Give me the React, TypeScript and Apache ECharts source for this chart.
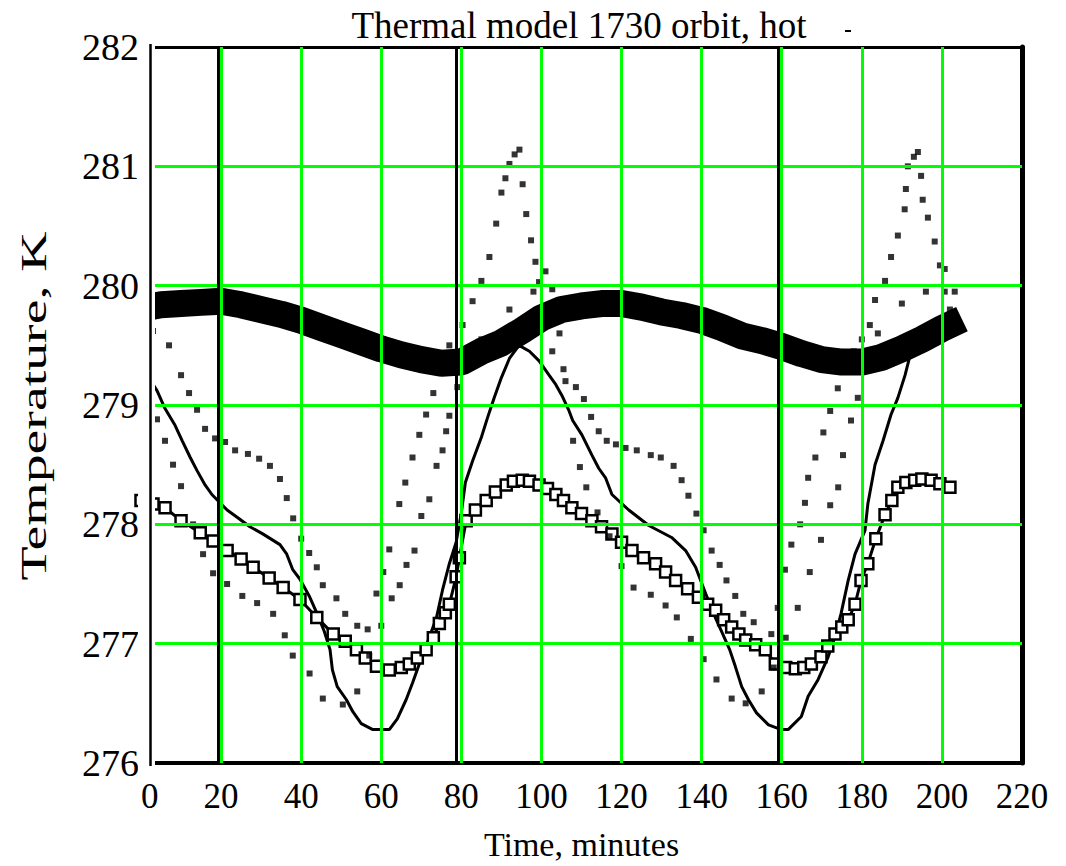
import React, { useEffect, useRef } from 'react';
import * as echarts from 'echarts';

// Axis ticks
const xTicks = [0, 20, 40, 60, 80, 100, 120, 140, 160, 180, 200, 220];
const yTicks = [276, 277, 278, 279, 280, 281, 282];
// Black vertical marker lines (minutes)
const eclipseLines = [19.3, 78.8, 159.1];

// Thick noisy band near 279.6 K
const bandCurve = [
  [0, 279.81], [5, 279.84], [10, 279.85], [15, 279.86], [20, 279.87], [25, 279.84], [30, 279.8],
  [35, 279.76], [40, 279.71], [45, 279.65], [50, 279.59], [55, 279.53], [60, 279.47], [65, 279.42],
  [70, 279.38], [75, 279.35], [80, 279.36], [85, 279.45], [90, 279.52], [95, 279.62], [100, 279.73],
  [105, 279.8], [110, 279.83], [115, 279.85], [120, 279.85], [125, 279.82], [130, 279.78], [135, 279.75],
  [140, 279.71], [145, 279.65], [150, 279.58], [155, 279.54], [160, 279.49], [165, 279.43], [170, 279.38],
  [175, 279.36], [180, 279.36], [185, 279.4], [190, 279.47], [195, 279.55], [200, 279.64], [205, 279.72],
];

// Hollow-square curve
const boxCurve = [
  [0, 278.2], [3, 278.17], [6, 278.14], [10, 278.03], [14.8, 277.93], [18, 277.86], [21.5, 277.78],
  [25, 277.71], [28, 277.64], [32, 277.55], [35.5, 277.47], [39.7, 277.37], [43.9, 277.22], [48, 277.08],
  [51, 277.02], [53.8, 276.95], [56, 276.88], [58.8, 276.81], [62, 276.78], [65, 276.8], [67, 276.83],
  [69, 276.88], [71.2, 276.95], [73, 277.05], [74.5, 277.17], [76, 277.26], [77, 277.33], [78.7, 277.56],
  [79.5, 277.72], [81.2, 278.03], [83.5, 278.12], [86.2, 278.2], [88.5, 278.27], [91.2, 278.33],
  [93, 278.36], [95.2, 278.37], [97, 278.36], [99.4, 278.33], [101.5, 278.3], [103.6, 278.25],
  [105.5, 278.2], [107.6, 278.14], [110, 278.09], [112.6, 278.03], [115, 277.98], [117.6, 277.92],
  [120, 277.85], [122.6, 277.78], [125.5, 277.72], [128.5, 277.67], [131, 277.6], [133.5, 277.53],
  [136.5, 277.46], [139.2, 277.39], [141.5, 277.33], [143.5, 277.28], [145.5, 277.2], [147.5, 277.14],
  [149.3, 277.08], [151, 277.03], [153.5, 276.99], [155.9, 276.95], [158.4, 276.83], [161, 276.8],
  [163.4, 276.79], [165.5, 276.8], [167.4, 276.83], [169.8, 276.89], [171.5, 276.98], [173.3, 277.08],
  [175, 277.14], [176.6, 277.2], [178.3, 277.33], [179.8, 277.53], [181.5, 277.67], [183.5, 277.88],
  [185.8, 278.08], [187.5, 278.2], [189, 278.31], [191, 278.35], [193.2, 278.37], [195, 278.38],
  [197.3, 278.37], [199.5, 278.34], [202, 278.31],
];

// Thin solid curve with the deep minima
const minCurve = [
  [1.5, 279.25], [4, 279.12], [6, 278.97], [8.5, 278.83], [10.3, 278.7], [12.3, 278.56], [14, 278.45],
  [16, 278.33], [17.7, 278.25], [21.5, 278.12], [24, 278.06], [27.2, 277.98], [30.4, 277.92],
  [34.7, 277.83], [36.4, 277.75], [37.9, 277.62], [39.7, 277.54], [42, 277.4], [44, 277.25],
  [45.8, 277.1], [47.2, 276.95], [47.8, 276.78], [49, 276.64], [51.3, 276.53], [52.9, 276.43],
  [55, 276.33], [57.9, 276.28], [62, 276.28], [64, 276.37], [66.2, 276.53], [67.8, 276.67],
  [69.5, 276.83], [71.2, 276.98], [73.8, 277.22], [75.3, 277.45], [77, 277.67], [78.7, 277.85],
  [80, 278.1], [81, 278.35], [82.8, 278.53], [85, 278.73], [86.5, 278.89], [88.2, 279.06], [90, 279.23],
  [92, 279.39], [94.4, 279.5], [97, 279.45], [99.4, 279.37], [101.9, 279.25], [103.6, 279.17],
  [105.1, 279.08], [106.9, 278.95], [107.8, 278.87], [110.1, 278.75], [112.6, 278.58], [114.3, 278.47],
  [116, 278.39], [117.6, 278.25], [121.8, 278.12], [126.8, 277.99], [132.5, 277.89], [136, 277.78],
  [138.5, 277.64], [141, 277.42], [143, 277.25], [145, 277.1], [147, 276.95], [148.4, 276.81],
  [150, 276.64], [151.7, 276.53], [153.7, 276.42], [156.7, 276.32], [159.9, 276.28], [161.6, 276.28],
  [164.9, 276.39], [166.6, 276.56], [169.1, 276.7], [171.6, 276.89], [173.3, 277.06], [174.8, 277.25],
  [176.6, 277.53], [178.3, 277.75], [180.8, 277.95], [181.5, 278.17], [183.3, 278.5], [185.3, 278.7],
  [187.3, 278.92], [189, 279.06], [190.8, 279.25], [192.3, 279.45], [194.7, 279.56], [197.2, 279.64],
  [199.7, 279.72],
];

// Sparse dotted curve with the 281 K peaks
const maxCurve = [
  [0, 279.75], [3, 279.62], [7, 279.5], [10, 279.25], [12, 279.1], [14, 278.96], [16, 278.8],
  [18.5, 278.72], [21, 278.69], [23.5, 278.62], [26.7, 278.59], [29.5, 278.55], [32.2, 278.49],
  [34.7, 278.38], [36.4, 278.22], [38, 278.05], [40, 277.88], [42, 277.76], [43.9, 277.64],
  [45.4, 277.49], [48.8, 277.38], [51, 277.25], [54, 277.15], [56.6, 277.12], [58.8, 277.42],
  [60.5, 277.6], [62, 277.79], [64.5, 278.17], [66, 278.35], [67.8, 278.56], [69.5, 278.75],
  [71.2, 278.92], [73, 279.1], [74.5, 279.3], [77, 279.5], [80.3, 279.67], [82.8, 279.87], [85, 280.04],
  [87, 280.24], [88.7, 280.52], [90, 280.78], [91, 280.9], [92, 281.02], [93.3, 281.1], [94.5, 281.14],
  [95.3, 280.85], [96.2, 280.6], [97.4, 280.38], [98.5, 280.2], [99.4, 280.03], [101, 279.75],
  [102.7, 279.45], [105.5, 279.3], [108.6, 279.15], [110.6, 279.05], [112.4, 278.9], [114.3, 278.78],
  [116.3, 278.7], [118.6, 278.67], [121, 278.64], [123.8, 278.62], [127.3, 278.58], [129.8, 278.56],
  [133, 278.49], [135, 278.37], [136.7, 278.24], [138.7, 278.09], [140.5, 277.95], [142.5, 277.78],
  [144.5, 277.66], [146.2, 277.53], [148.4, 277.4], [150.4, 277.25], [153, 277.18], [157.4, 277.08],
  [159, 277.3], [160.8, 277.62], [162.4, 277.83], [164.6, 278.0], [165.8, 278.18], [166.6, 278.39],
  [168.4, 278.56], [170.4, 278.77], [172.1, 278.95], [174, 279.14], [176, 279.3], [178, 279.45],
  [180, 279.55], [182, 279.67], [183.3, 279.88], [185.8, 280.04], [187.3, 280.24], [189, 280.42],
  [190.7, 280.64], [191, 280.81], [191.5, 281.0], [193, 281.08], [194, 281.12], [194.8, 280.92],
  [195.2, 280.72], [196.5, 280.57], [198.2, 280.37], [199.5, 280.17], [200.7, 279.95], [202, 279.8],
  [203.2, 279.62],
];

// Second sparse dotted curve
const midCurve = [
  [2, 279.05], [4, 278.88], [6, 278.7], [8, 278.5], [10, 278.32], [13, 278.0], [15.5, 277.75],
  [18, 277.59], [21.5, 277.5], [25.3, 277.4], [29, 277.34], [33, 277.25], [35.9, 277.07], [37.9, 276.9],
  [42.1, 276.75], [45.4, 276.54], [50.4, 276.49], [54, 276.6], [57, 276.9], [60, 277.15], [62.6, 277.38],
  [64.6, 277.49], [66.3, 277.66], [68.3, 277.78], [70, 278.07], [72, 278.21], [73.8, 278.49],
  [75.3, 278.62], [76.2, 278.78], [77, 278.91], [79, 279.15], [85, 279.55], [92, 279.8], [98, 279.95],
  [101, 280.12], [102.7, 279.97], [104.5, 279.6], [106, 279.2], [107.9, 278.7], [109.6, 278.48],
  [111.2, 278.31], [114, 278.1], [117, 277.9], [120, 277.65], [123, 277.47], [127.3, 277.41],
  [131, 277.32], [133.8, 277.22], [137.3, 277.04], [140.5, 276.87], [143.7, 276.7], [147.5, 276.54],
  [151, 276.5], [155, 276.6], [158, 276.8], [161, 277.05], [164, 277.3], [167, 277.6], [169.8, 277.87],
  [172.1, 278.16], [174.1, 278.31], [175.3, 278.58], [177.3, 278.87], [179, 279.06], [181, 279.3],
  [184, 279.6], [190, 279.85], [196, 279.95], [200.7, 280.14], [203.2, 279.95],
];

export default function App() {
  const ref = useRef<HTMLDivElement>(null);

  useEffect(() => {
    document.body.style.margin = '0';
    const chart = echarts.init(ref.current as HTMLDivElement, null, { renderer: 'svg' });
    const serif = "'Liberation Serif', 'Times New Roman', serif";
    const black = '#000000';
    const green = '#00ff00';
    const innerX = xTicks.slice(1, -1);
    const innerY = yTicks.slice(1, -1);
    const xMin = xTicks[0];
    const xMax = xTicks[xTicks.length - 1];
    const yMin = yTicks[0];
    const yMax = yTicks[yTicks.length - 1];

    chart.setOption({
      animation: false,
      backgroundColor: '#ffffff',
      title: {
        text: 'Thermal model 1730 orbit, hot',
        left: 574,
        top: 2,
        textAlign: 'center',
        textStyle: { fontFamily: serif, fontSize: 37, fontWeight: 'normal', color: black },
      },
      grid: { left: 141, right: 44, top: 47, bottom: 99 },
      xAxis: [
        {
          type: 'value', min: xMin, max: xMax, interval: 20, position: 'bottom',
          axisLine: { show: true, onZero: false, lineStyle: { color: black, width: 4 } },
          axisTick: { show: false }, splitLine: { show: false },
          axisLabel: { fontFamily: serif, fontSize: 35, color: black, margin: 16, alignMinLabel: 'left' },
          name: 'Time, minutes', nameLocation: 'middle', nameGap: 64,
          nameTextStyle: { fontFamily: serif, fontSize: 34, color: black },
        },
        {
          type: 'value', min: xMin, max: xMax, interval: 20, position: 'top',
          axisLine: { show: true, onZero: false, lineStyle: { color: black, width: 3 } },
          axisTick: { show: false }, axisLabel: { show: false }, splitLine: { show: false },
        },
      ],
      yAxis: [
        {
          type: 'value', min: yMin, max: yMax, interval: 1, position: 'left',
          axisLine: { show: false }, axisTick: { show: false }, splitLine: { show: false },
          axisLabel: { fontFamily: serif, fontSize: 38, color: black, margin: 2 },
        },
        {
          type: 'value', min: yMin, max: yMax, interval: 1, position: 'right',
          axisLine: { show: true, onZero: false, lineStyle: { color: black, width: 5 } },
          axisTick: { show: false }, axisLabel: { show: false }, splitLine: { show: false },
        },
      ],
      series: [
        {
          type: 'line', data: bandCurve, showSymbol: false, z: 2, silent: true,
          lineStyle: { color: black, width: 27 },
        },
        {
          type: 'line', data: minCurve, showSymbol: false, z: 3, silent: true,
          lineStyle: { color: black, width: 3 },
        },
        {
          type: 'line', data: boxCurve, symbol: 'rect', symbolSize: 11, showAllSymbol: true, z: 3, silent: true,
          lineStyle: { color: black, width: 3 },
          itemStyle: { color: '#ffffff', borderColor: black, borderWidth: 2.5 },
        },
        {
          type: 'scatter', data: maxCurve, symbol: 'rect', symbolSize: 6, z: 3, silent: true,
          itemStyle: { color: black },
        },
        {
          type: 'scatter', data: midCurve, symbol: 'rect', symbolSize: 6, z: 3, silent: true,
          itemStyle: { color: black },
        },
        {
          type: 'line', data: [[xMin, yMin]], symbol: 'none', z: 5, silent: true,
          lineStyle: { width: 0 },
          markLine: {
            silent: true, symbol: ['none', 'none'], label: { show: false },
            lineStyle: { color: green, width: 3, type: 'solid' },
            emphasis: { disabled: true },
            data: [
              ...innerX.map((v) => ({ xAxis: v })),
              ...innerY.map((v) => ({ yAxis: v })),
            ],
          },
        },
        {
          type: 'line', data: [[xMin, yMin]], symbol: 'none', z: 6, silent: true,
          lineStyle: { width: 0 },
          markLine: {
            silent: true, symbol: ['none', 'none'], label: { show: false },
            lineStyle: { color: black, width: 3, type: 'solid' },
            emphasis: { disabled: true },
            data: eclipseLines.map((v) => ({ xAxis: v })),
          },
        },
      ],
      graphic: [
        { type: 'rect', z: 100, silent: true, shape: { x: 138, y: 38, width: 17, height: 734 }, style: { fill: '#ffffff' } },
        { type: 'line', z: 101, silent: true, shape: { x1: 150.5, y1: 44, x2: 150.5, y2: 766 }, style: { stroke: black, lineWidth: 2.5 } },
        { type: 'rect', z: 101, silent: true, shape: { x: 845, y: 30, width: 6, height: 2 }, style: { fill: black } },
        {
          type: 'text', z: 101, silent: true, x: 34, y: 406, rotation: Math.PI / 2, scaleX: 1.55,
          style: {
            text: 'Temperature, K', fontFamily: serif, fontSize: 36, fill: black,
            textAlign: 'center', textVerticalAlign: 'middle',
          },
        },
      ],
    });

    return () => {
      chart.dispose();
    };
  }, []);

  return <div ref={ref} style={{ width: 1066, height: 866 }} />;
}
